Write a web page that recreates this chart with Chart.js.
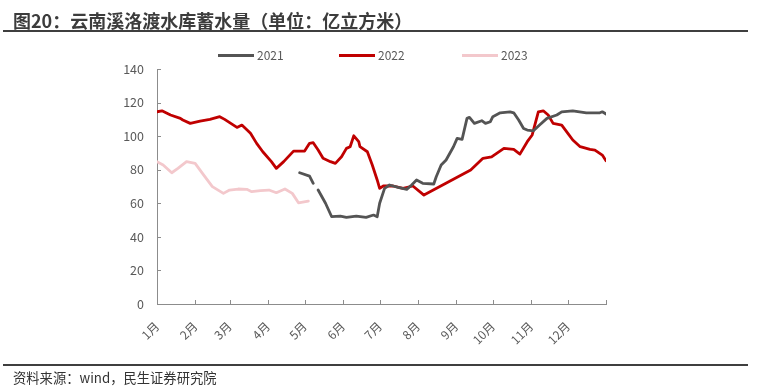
<!DOCTYPE html>
<html>
<head>
<meta charset="utf-8">
<script src="https://cdn.jsdelivr.net/npm/chart.js@4/dist/chart.umd.min.js"></script>
<style>
  html, body { margin: 0; padding: 0; background: #ffffff; }
  #wrap { position: relative; width: 760px; height: 392px; overflow: hidden; background: #fff; }
  #c { position: absolute; left: 0; top: 0; }
  .title { position: absolute; left: 13px; top: 7px; font-family: 'Noto Sans CJK SC', sans-serif; font-weight: bold; font-size: 18px; line-height: 26px; color: #3c3c3c; white-space: nowrap; }
  .rule { position: absolute; left: 3px; width: 745px; height: 2px; background: #3f3f3f; }
  .source { position: absolute; left: 13px; top: 369px; font-family: 'Noto Sans CJK SC', sans-serif; font-size: 13.3px; line-height: 18px; color: #333; white-space: nowrap; }
</style>
</head>
<body>
<div id="wrap">
  <canvas id="c" width="760" height="392"></canvas>
  <div class="title">图20：云南溪洛渡水库蓄水量（单位：亿立方米）</div>
  <div class="rule" style="top:30px;"></div>
  <div class="rule" style="top:364px;"></div>
  <div class="source">资料来源：wind，民生证券研究院</div>
</div>
<script>
// ---- data (x = day of year, y = 亿立方米) ----
const monthLabels = ['1月','2月','3月','4月','5月','6月','7月','8月','9月','10月','11月','12月'];
const monthStartDays = [0,31,59,90,120,151,181,212,243,273,304,334,365];
const seriesNames = ['2021','2022','2023'];

const days2021 = [116,124,127,129,131,137,142,149,154,162,170,176,179,181,185,189,196,203,207,211,216,225,227,231,235,241,244,248,252,254,258,264,267,271,273,279,287,290,294,298,301,306,311,317,325,329,338,349,360,362,365];
const vals2021 = [78.2,76.2,71.9,null,67.9,60.0,52.0,52.4,51.6,52.4,51.6,53.0,52.0,60.0,68.9,70.9,69.5,68.3,70.9,73.9,71.9,71.5,75.8,82.8,85.8,93.7,98.7,98.1,110.6,111.2,107.6,109.2,107.6,108.6,111.6,113.9,114.5,113.9,109.6,104.6,103.6,103.2,106.6,110.6,112.6,114.5,115.1,113.9,113.9,114.5,113.2];

const days2022 = [0,4,11,19,21,27,35,43,51,55,65,69,76,81,86,93,97,103,111,120,124,127,131,135,141,145,150,154,157,160,164,165,171,175,179,181,184,192,200,208,217,255,265,272,282,290,295,301,305,310,314,318,322,329,334,338,344,352,356,362,365];
const vals2022 = [114.5,115.1,112.6,110.6,109.6,107.6,109.0,110.0,111.6,110.0,105.2,106.6,101.7,95.7,90.7,84.8,80.8,84.8,91.1,91.1,95.7,96.1,91.7,86.8,84.8,83.8,87.7,92.7,93.7,100.2,96.7,93.7,90.7,82.8,73.9,68.9,70.3,70.3,68.9,70.3,64.9,79.8,86.8,87.7,92.7,92.1,89.3,96.7,100.7,114.5,115.1,112.6,107.6,106.6,101.7,97.7,93.7,92.1,91.7,88.7,85.3];

const days2023 = [0,5,12,17,24,31,38,45,54,59,66,73,77,84,91,97,104,110,115,123];
const vals2023 = [84.8,82.8,78.2,80.8,84.8,83.8,76.8,69.9,65.9,67.9,68.5,68.3,66.9,67.5,67.9,66.3,68.5,65.9,60.3,61.3];

const yTicks = [0,20,40,60,80,100,120,140];

const toPoints = (d, v) => d.map((x, i) => ({ x: x, y: v[i] }));

const colors = ['#545454', '#C00000', '#F3C8CC'];
const AXIS = '#8c8c8c';
const TEXT = '#595959';
Chart.defaults.font.family = "'Noto Sans CJK SC', 'Noto Sans', sans-serif";
Chart.defaults.font.size = 12;
Chart.defaults.color = TEXT;

const legendPlugin = {
  id: 'lineLegend',
  afterDraw(chart) {
    const ctx = chart.ctx;
    const starts = [218, 339, 462];
    const y = 55.5;
    ctx.save();
    ctx.font = "12px 'Noto Sans CJK SC', 'Noto Sans', sans-serif";
    ctx.textBaseline = 'middle';
    ctx.textAlign = 'left';
    chart.data.datasets.forEach((ds, i) => {
      ctx.fillStyle = ds.borderColor;
      ctx.fillRect(starts[i], y - 1.5, 36, 3);
      ctx.fillStyle = TEXT;
      ctx.fillText(ds.label, starts[i] + 39, y);
    });
    ctx.restore();
  }
};

const innerTicks = {
  id: 'innerTicks',
  afterDraw(chart) {
    const ctx = chart.ctx;
    const xs = chart.scales.x, ys = chart.scales.y;
    const a = chart.chartArea;
    ctx.save();
    ctx.strokeStyle = AXIS;
    ctx.lineWidth = 1;
    ctx.beginPath();
    ys.ticks.forEach(t => {
      const p = Math.round(ys.getPixelForValue(t.value)) + 0.5;
      ctx.moveTo(a.left, p); ctx.lineTo(a.left + 4, p);
    });
    xs.ticks.forEach(t => {
      const p = Math.round(xs.getPixelForValue(t.value)) + 0.5;
      ctx.moveTo(p, a.bottom); ctx.lineTo(p, a.bottom - 4);
    });
    ctx.stroke();
    ctx.restore();
  }
};

new Chart(document.getElementById('c'), {
  type: 'line',
  data: {
    datasets: [
      { label: seriesNames[0], data: toPoints(days2021, vals2021), borderColor: colors[0], backgroundColor: colors[0] },
      { label: seriesNames[1], data: toPoints(days2022, vals2022), borderColor: colors[1], backgroundColor: colors[1] },
      { label: seriesNames[2], data: toPoints(days2023, vals2023), borderColor: colors[2], backgroundColor: colors[2] }
    ]
  },
  options: {
    responsive: false,
    animation: false,
    devicePixelRatio: 1,
    spanGaps: false,
    elements: {
      point: { radius: 0, hoverRadius: 0 },
      line: { borderWidth: 2.8, tension: 0, borderJoinStyle: 'round', borderCapStyle: 'round' }
    },
    layout: { padding: { top: 69, left: 100, right: 154, bottom: 20 } },
    plugins: { legend: { display: false }, tooltip: { enabled: false } },
    scales: {
      x: {
        type: 'linear', min: 0, max: 365,
        afterBuildTicks: s => { s.ticks = monthStartDays.map(v => ({ value: v })); },
        afterFit: s => { s.height = 68; },
        grid: { display: true, drawOnChartArea: false, drawTicks: false, color: AXIS },
        border: { display: true, color: AXIS, width: 1 },
        ticks: {
          autoSkip: false, minRotation: 45, maxRotation: 45, padding: 15, color: TEXT,
          font: { size: 12 },
          callback: (v, i) => monthLabels[i] || ''
        }
      },
      y: {
        min: 0, max: 140,
        afterBuildTicks: s => { s.ticks = yTicks.map(v => ({ value: v })); },
        afterFit: s => { s.width = 57; },
        grid: { display: true, drawOnChartArea: false, drawTicks: false, color: AXIS },
        border: { display: true, color: AXIS, width: 1 },
        ticks: { padding: 13, color: TEXT, font: { size: 12.5 } }
      }
    }
  },
  plugins: [legendPlugin, innerTicks]
});
</script>
</body>
</html>
